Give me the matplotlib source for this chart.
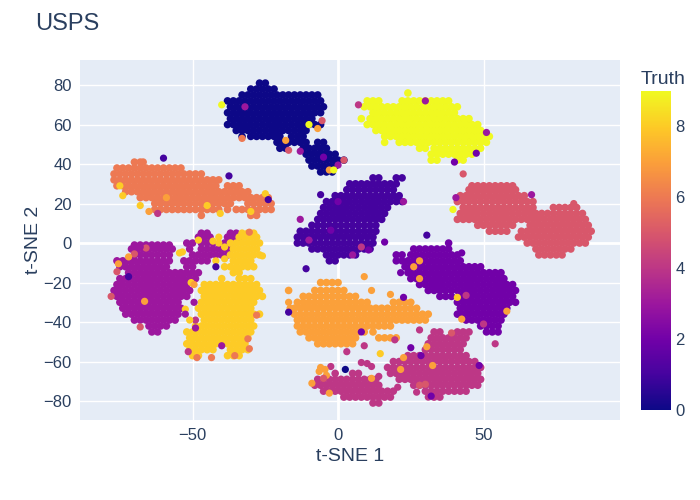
"""t-SNE map of the USPS digits, coloured by true class."""
import matplotlib
matplotlib.use("Agg")
import matplotlib.pyplot as plt  # noqa: E402
from matplotlib.colors import LinearSegmentedColormap  # noqa: E402

plt.rcParams["font.family"] = ["Liberation Sans", "DejaVu Sans"]

INK = "#2a3f5f"
PLASMA = ["#0d0887", "#46039f", "#7201a8", "#9c179e", "#bd3786",
          "#d8576b", "#ed7953", "#fb9f3a", "#fdca26", "#f0f921"]

# each class: t-SNE 2 value -> t-SNE 1 values
TRUTH_0 = {
    81: [-27, -25],
    78: [-30, -28, -26, -24, -22],
    75: [-33, -31, -29, -27, -25, -23, -21, -19, -17, -15, -13, -11, -9, -7],
    72: [-38, -36, -34, -32, -30, -28, -26, -24, -22, -20, -18, -16, -14, -12, -10, -8, -6],
    69: [-37, -35, -33, -31, -29, -27, -25, -23, -21, -19, -17, -15, -13, -11, -9, -7, -5],
    66: [-38, -36, -34, -32, -30, -28, -26, -24, -22, -20, -18, -16, -14, -12, -10, -8, -6],
    63: [-37, -35, -33, -31, -29, -27, -25, -23, -21, -19, -17, -15, -13, -11, -9],
    60: [-38, -36, -34, -32, -30, -28, -26, -24, -22, -20, -18, -16, -14, -12, -10, -8, -6],
    57: [-35, -33, -31, -29, -27, -25, -23, -21, -19, -17, -15, -13, -11],
    54: [-33, -30, -28, -26, -24, -22, -20, -16, -14, -12],
    51: [-21, -19, -17, -15, -13, -11, -7, -5],
    48: [-20, -18, -12, -10, -8, -6, -4],
    45: [-11, -9, -7, -5, -3, -1],
    42: [-10, -8, -6, -4, -2, 0, 2],
    39: [-9, -7, -5, -3, -1],
    36: [-6, -4, -2],
}
TRUTH_1 = {
    33: [12, 14, 20, 22],
    30: [4, 6, 8, 10, 12, 14, 16, 18, 20],
    27: [3, 5, 7, 9, 11, 13, 15, 17, 19],
    24: [-1, 1, 3, 5, 7, 9, 11, 13, 15, 17, 19, 21],
    21: [-4, -2, 0, 2, 4, 6, 8, 10, 12, 14, 16, 18, 20, 22],
    18: [-5, -3, -1, 1, 3, 5, 7, 9, 11, 13, 15, 17],
    15: [-6, -4, -2, 0, 2, 4, 6, 8, 10, 12, 14, 16],
    12: [-7, -5, -3, -1, 1, 3, 5, 7, 9, 11, 13, 15],
    9: [-9, -7, -5, -3, -1, 1, 3, 5, 7, 9, 11, 13],
    6: [-13, -11, -9, -7, -5, -3, -1, 1, 3, 5, 7, 9, 11, 13],
    3: [-14, -12, -10, -8, -6, -4, -2, 0, 2, 4, 6, 8, 10, 12],
    0: [-14, -12, -10, -8, -6, -4, -2, 0, 2, 4, 6, 8, 10, 12],
    -3: [-9, -7, -5, -3, -1, 1, 3, 5, 7, 9, 11],
    -6: [-4, -2, 0, 2, 4, 6],
    -9: [-3, -1],
}
TRUTH_2 = {
    0: [38],
    -3: [26, 28, 30, 32, 34, 36, 38],
    -6: [20, 22, 25, 27, 29, 31, 33, 35, 37, 39, 41],
    -9: [20, 22, 24, 26, 28, 30, 32, 34, 36, 38, 40, 42],
    -12: [23, 25, 27, 29, 31, 33, 35, 37, 39, 41, 43, 45, 47, 49],
    -15: [24, 26, 28, 30, 32, 34, 36, 38, 40, 42, 44, 46, 48, 50, 52, 54, 56],
    -18: [25, 27, 29, 31, 33, 35, 37, 39, 41, 43, 45, 47, 49, 51, 53, 55, 57],
    -21: [28, 30, 32, 34, 36, 38, 40, 42, 44, 46, 48, 50, 52, 54, 56, 58, 60],
    -24: [31, 33, 35, 37, 39, 41, 43, 45, 47, 49, 51, 53, 55, 57, 59, 61],
    -27: [35, 37, 39, 42, 44, 46, 48, 50, 52, 54, 56, 58, 60],
    -30: [41, 43, 45, 47, 49, 51, 53, 55, 57, 59, 61],
    -33: [42, 44, 46, 48, 50, 52, 54, 56, 58],
    -36: [41, 43, 45, 47, 49, 51, 53, 55, 57],
    -39: [44, 46, 48, 50, 52, 54, 56],
    -42: [49, 51, 53, 55],
    -45: [51, 53, 55],
}
TRUTH_3 = {
    5: [-47, -45, -37, -35],
    3: [-48, -46, -44, -38, -36, -34],
    0: [-52, -50, -47, -45, -43, -39, -37],
    -1: [-70, -68, -66, -64, -62, -60, -58],
    -3: [-71, -69, -67, -65, -63, -61, -59, -57, -51, -47, -45, -43, -41, -39, -37],
    -6: [-70, -68, -66, -64, -62, -60, -58, -50, -48, -46, -44, -42, -40, -38],
    -9: [-76, -74, -72, -70, -68, -66, -64, -62, -60, -58, -53, -51, -49, -47, -45],
    -12: [-75, -73, -71, -69, -67, -65, -63, -61, -59, -52, -50],
    -15: [-72, -70, -68, -66, -64, -62, -60, -58, -56, -54, -52, -50, -48],
    -18: [-75, -73, -71, -69, -67, -65, -63, -61, -59, -57, -55, -53, -51, -49],
    -21: [-76, -74, -72, -70, -68, -66, -64, -62, -60, -58, -56, -54, -52],
    -24: [-77, -75, -73, -71, -69, -67, -65, -63, -61, -59, -57, -55, -53, -51],
    -27: [-76, -74, -72, -70, -68, -66, -64, -62, -60, -58, -56, -54, -52],
    -30: [-75, -73, -71, -69, -67, -65, -63, -61, -59, -57, -55],
    -33: [-74, -72, -70, -68, -66, -64, -62, -60, -58, -56, -54],
    -36: [-73, -71, -69, -67, -65, -63, -61, -59, -57, -55],
    -39: [-70, -68, -66, -64, -62, -60, -58, -56],
    -42: [-65, -63, -61, -59],
    -45: [-64, -62],
}
TRUTH_4 = {
    -45: [33, 35, 41, 43, 45],
    -48: [32, 34, 36, 38, 40, 42, 44],
    -51: [31, 33, 35, 37, 39, 41, 43],
    -54: [30, 32, 34, 36, 38, 40, 42],
    -57: [24, 26, 28, 30, 32, 34, 36, 38, 40, 42, 44],
    -60: [19, 21, 23, 25, 27, 29, 31, 33, 35, 37, 39, 41, 43, 45, 47],
    -63: [17, 19, 21, 23, 25, 27, 29, 31, 33, 35, 37, 39, 41, 43, 45, 47, 49],
    -66: [-1, 5, 7, 18, 20, 22, 24, 26, 28, 30, 32, 34, 36, 38, 40, 42, 44, 46, 48],
    -69: [-7, -5, -3, -1, 1, 3, 5, 7, 9, 11, 13, 21, 23, 25, 27, 29, 31, 33, 35, 37, 39, 41, 43,
          45, 47, 49],
    -72: [-8, -6, -4, -2, 0, 2, 4, 6, 8, 10, 12, 14, 26, 28, 30, 32, 34, 36, 38, 40, 42, 44, 46, 48],
    -75: [-5, -3, -1, 1, 3, 5, 7, 9, 11, 13, 15, 17, 19, 30, 32, 34, 36, 38, 40, 42, 44],
    -78: [2, 4, 6, 8, 10, 12, 14, 16, 18, 33, 35],
    -81: [12, 14],
}
TRUTH_5 = {
    29: [46, 48, 50, 52, 54, 56, 58, 60],
    27: [45, 47, 49, 51, 53, 55, 57, 59, 61],
    24: [42, 44, 46, 48, 50, 52, 54, 56, 58, 60, 62, 64],
    21: [41, 43, 45, 47, 49, 51, 53, 55, 57, 59, 61, 63, 65, 67],
    18: [43, 45, 47, 49, 51, 53, 55, 57, 59, 61, 63, 65, 67, 74, 76, 78, 80, 82],
    15: [42, 44, 46, 48, 50, 52, 54, 56, 58, 60, 62, 64, 66, 68, 70, 72, 74, 76, 78, 80, 82, 84],
    12: [41, 43, 45, 47, 49, 51, 53, 55, 57, 59, 61, 63, 65, 67, 69, 71, 73, 75, 77, 79, 81, 83, 85],
    9: [48, 50, 52, 54, 56, 58, 60, 66, 68, 70, 72, 74, 76, 78, 80, 82, 84, 86],
    6: [52, 54, 56, 58, 63, 65, 67, 69, 71, 73, 75, 77, 79, 81, 83, 85, 87],
    3: [62, 64, 66, 68, 70, 72, 74, 76, 78, 80, 82, 84, 86],
    0: [65, 67, 69, 71, 73, 75, 77, 79, 81, 83, 85],
    -3: [68, 70, 72, 74, 76, 78, 80],
    -6: [69, 71, 73, 75, 77],
}
TRUTH_6 = {
    41: [-70, -68, -67],
    38: [-76, -74, -72, -70, -68, -66, -64, -62, -60, -58, -56, -54],
    35: [-77, -75, -73, -71, -69, -67, -65, -63, -61, -59, -57, -55, -53, -51, -49, -47],
    32: [-77, -75, -73, -71, -69, -67, -65, -63, -61, -59, -57, -55, -53, -51, -49, -47, -45, -43, -41],
    29: [-76, -74, -72, -70, -68, -66, -64, -62, -60, -58, -56, -54, -52, -50, -48, -46, -44, -42,
         -38, -36, -34],
    26: [-73, -71, -69, -67, -65, -63, -61, -59, -57, -55, -53, -51, -49, -47, -45, -43, -41, -39,
         -37, -35, -33, -31],
    23: [-68, -66, -64, -62, -60, -58, -56, -54, -52, -50, -48, -46, -44, -42, -40, -38, -36, -34,
         -32, -30, -28, -26, -24],
    20: [-63, -61, -59, -57, -55, -53, -51, -49, -47, -45, -43, -41, -39, -37, -31, -29, -27, -25,
         -23],
    17: [-63, -61, -59, -57, -55, -53, -51, -49, -47, -45, -43, -41, -38, -35, -33, -31, -29, -27,
         -25, -23],
    14: [-47, -30, -28],
}
TRUTH_7 = {
    -20: [-6, -4, -2, 0],
    -24: [-17, -8, -6, -4, -2, 0, 2],
    -27: [-12, -10, -8, -6, -4, -2, 0, 2, 4, 6],
    -30: [-14, -12, -10, -8, -6, -4, -2, 0, 2, 4, 6, 8, 10, 19, 21, 23, 25],
    -33: [-15, -13, -11, -9, -7, -5, -3, -1, 1, 3, 5, 7, 9, 11, 13, 15, 17, 19, 21, 23, 25, 27],
    -36: [-15, -13, -11, -9, -7, -5, -3, -1, 1, 3, 5, 7, 9, 11, 13, 15, 17, 19, 21, 23, 25, 27, 29, 31],
    -39: [-14, -12, -10, -8, -6, -4, -2, 0, 2, 4, 6, 8, 10, 12, 14, 16, 18, 20, 22, 24, 26, 28, 30],
    -42: [-14, -12, -10, -8, -6, -4, -2, 0, 2, 4, 6, 8, 10, 12, 14, 16, 18],
    -45: [-13, -11, -9, -7, -5, -3, -1, 1, 3, 5, 7, 9, 12],
    -48: [-10, -8, -6, -4, -2, 0, 2, 4, 6, 14, 16, 18, 20],
    -51: [-7, -5, -3, -1, 1, 3, 5],
}
TRUTH_8 = {
    5: [-33, -31, -29],
    3: [-34, -32, -30, -28],
    0: [-37, -35, -33, -31, -29, -27],
    -3: [-36, -34, -32, -30, -28],
    -6: [-37, -35, -33, -31, -29, -27],
    -9: [-36, -34, -32, -30],
    -12: [-39, -37, -35, -33, -31, -29],
    -15: [-36, -34],
    -18: [-40, -34, -32, -30],
    -21: [-46, -44, -42, -40, -38, -36, -34, -32, -30, -28],
    -24: [-47, -45, -43, -41, -39, -37, -35, -33, -31, -29, -27],
    -27: [-46, -44, -42, -40, -38, -36, -34, -32, -30, -28, -26],
    -30: [-47, -45, -43, -41, -39, -37, -35, -33, -31, -29],
    -33: [-48, -46, -44, -42, -40, -38, -36, -34, -32, -30],
    -36: [-47, -45, -43, -41, -39, -37, -35, -33, -31, -29, -27],
    -39: [-46, -44, -42, -40, -38, -36, -34, -32, -30],
    -42: [-49, -47, -45, -43, -41, -39, -37, -35, -33, -31, -29],
    -45: [-52, -50, -48, -46, -44, -42, -40, -38, -36, -34, -32, -30],
    -48: [-51, -49, -47, -45, -43, -41, -39, -37, -35, -33, -31],
    -51: [-52, -50, -48, -46, -44, -42, -40, -38, -36, -34, -32],
    -54: [-51, -49, -47, -45, -43, -37, -35, -33, -31],
    -57: [-50, -48, -38, -36, -34],
}
TRUTH_9 = {
    76: [24],
    72: [10, 12, 14, 22, 24, 26, 28, 30, 32, 34, 36, 38],
    69: [9, 11, 13, 15, 17, 19, 21, 23, 25, 27, 29, 31, 33, 35, 37, 39, 41],
    66: [12, 14, 16, 18, 20, 22, 24, 26, 28, 30, 32, 34, 36, 38, 40],
    63: [8, 11, 13, 15, 17, 19, 21, 23, 25, 27, 29, 31, 33, 35, 37, 39, 41, 43, 45],
    60: [10, 12, 14, 16, 18, 20, 22, 24, 26, 28, 30, 32, 34, 36, 38, 40, 42, 44, 46, 48],
    57: [13, 15, 17, 19, 21, 23, 25, 27, 29, 31, 33, 35, 37, 39, 41, 43, 45, 47, 49],
    54: [16, 18, 20, 22, 24, 26, 28, 30, 32, 34, 36, 38, 40, 42, 44, 46, 48, 50, 52],
    51: [16, 21, 23, 25, 27, 29, 31, 33, 35, 37, 39, 41, 43, 45, 47, 49, 51],
    48: [28, 30, 33, 35, 37, 39, 41, 43, 45, 47, 49],
    45: [32, 34, 36, 38, 40, 42, 44, 46],
    42: [32, 34, 41, 43],
}
CLASSES = [TRUTH_0, TRUTH_1, TRUTH_2, TRUTH_3, TRUTH_4,
           TRUTH_5, TRUTH_6, TRUTH_7, TRUTH_8, TRUTH_9]

# stray points sitting away from their own class, drawn on top
STRAY_X = [-40, -32, -10, -5.5, -7, -33, -18, -17, -13, -5, 2, 0, -3, -1.5,
           -60, -37.5, -75, -74, -59, -68, -65, -62, -45, -40.5, -30, -25, -24, -6, -13, 0, -2.5,
           7, 30, 51, 47.5, 40, 43, 66.5, 40.5, 39.5, 81, 30.5, 22.5,
           -66, -68, -70, -72, -75.5, -76, -72, -78, -66.5, -68, -54.5, -53.5, -48, -43, -41, -41,
           -39, -42, -42, -39, -26, -30.5, -50.5, -49.5, -52.5, -49.5, -52.5, -49, -49, -51, -40,
           -31, -30.5, -28, -35.5, -43.5, -48.5, -51.5,
           -10, 8, 5, 10.5, 16, -11, 9, 11.5, 18, 22.5, -17, -16.5, -17, 28, 26, 21.5, 28, 41, 44,
           58, 42.5, 50, 42.5, 54, 39, 28, 8, 19.5, 9, 3, 14.5, 25, 30.5, 22.5, 28.5, 21.5, 32.5,
           48.5, 8, 10, 11.5, -2.5, 2.5, -6, -6.5, -4.5, -4, -5, -9, -3, 11.5, 14, 20.5, 28, 30,
           31, 32, 27]
STRAY_Y = [70, 69, 60, 62, 58, 53, 52, 47, 46.5, 43.5, 42, 39.5, 37, 37,
           43, 34, 29, 24, 23, 19, 16, 15, 19, 15, 16, 25, 22, 24.5, 12, 21, 6.5,
           70, 72, 56, 45.5, 41, 35, 24.5, 23, 17, 20, 4, 21,
           -2.5, -2, -5.5, -7, -10.5, -14.5, -17, -27, -29.5, -42.5, -5, -4.5, 1.5, 1, 3, 0,
           -2, -9, -12, -8, -6.5, 5.5, -20, -21, -33.5, -30, -36, -39, -43, -39, -52,
           -48.5, -53.5, -36.5, -57, -58, -58, -55,
           1.5, -2, -6, -3.5, 0.5, -13, -17, -24, -26, -27.5, -30, -33, -35, -9, -12, -15, -18,
           -27.5, -26.5, -34.5, -38.5, -41, -5, -51, -45.5, -44, -45, -49, -52, -55, -56, -53,
           -52.5, -58, -57, -64, -62, -62, -60.5, -61, -62.5, -62.5, -64, -63, -65, -64, -67,
           -68.5, -71, -76, -68.5, -67.5, -73, -72, -71.5, -78, -77.5, -75.5]
STRAY_TRUTH = [9, 3, 9, 5, 7, 6, 7, 5, 3, 2, 5, 3, 7, 9,
               1, 1, 8, 8, 7, 8, 7, 4, 8, 8, 8, 8, 1, 1, 3, 2, 2,
               4, 3, 3, 2, 2, 5, 3, 3, 9, 5, 1, 3,
               5, 3, 5, 7, 7, 5, 1, 5, 7, 5, 8, 8, 8, 8, 8, 8,
               8, 8, 1, 8, 8, 6, 8, 7, 8, 3, 3, 4, 3, 8, 3,
               6, 6, 6, 6, 6, 6, 4,
               3, 4, 3, 2, 2, 1, 7, 7, 7, 2, 7, 7, 1, 7, 7, 2, 7, 8, 4,
               7, 7, 4, 2, 4, 5, 4, 2, 4, 4, 4, 8, 2, 7, 7, 2, 7, 7,
               2, 4, 4, 4, 4, 0, 7, 7, 7, 7, 5, 7, 7, 7, 4, 4, 5, 5,
               4, 2, 4]

X_TICKS = [-50, 0, 50]
Y_TICKS = [-80, -60, -40, -20, 0, 20, 40, 60, 80]
BAR_TICKS = [0, 2, 4, 6, 8]


def main():
    cmap = LinearSegmentedColormap.from_list("plotly_plasma", PLASMA)
    fig = plt.figure(figsize=(7, 5), dpi=100)
    ax = fig.add_axes([80 / 700, 80 / 500, 540 / 700, 360 / 500], facecolor="#E5ECF6")

    for truth, rows in enumerate(CLASSES):
        xs = [x for vals in rows.values() for x in vals]
        ys = [y for y, vals in rows.items() for _ in vals]
        pts = ax.scatter(xs, ys, c=[truth] * len(xs), s=30, cmap=cmap, vmin=0, vmax=9,
                         linewidths=0, zorder=3)
    ax.scatter(STRAY_X, STRAY_Y, c=STRAY_TRUTH, s=27, cmap=cmap, vmin=0, vmax=9,
               linewidths=0, zorder=4)

    ax.set_xlim(-88.7, 96.9)
    ax.set_ylim(-89.6, 92.7)
    ax.set_xticks(X_TICKS)
    ax.set_yticks(Y_TICKS)
    ax.grid(color="white", lw=1, zorder=1)
    ax.set_axisbelow(True)
    ax.axhline(0, color="white", lw=2, zorder=2)
    ax.axvline(0, color="white", lw=2, zorder=2)
    ax.tick_params(length=0, labelsize=12, labelcolor=INK, pad=6)
    for side in ax.spines.values():
        side.set_visible(False)

    fig.text(35 / 700, 1 - 30 / 500, "USPS", fontsize=17, color=INK, ha="left", va="baseline")
    fig.text(350 / 700, 1 - 461 / 500, "t-SNE 1", fontsize=14, color=INK, ha="center", va="baseline")
    fig.text(34 / 700, 1 - 240 / 500, "t-SNE 2", fontsize=14, color=INK, ha="center", va="center",
             rotation=90)

    cax = fig.add_axes([641 / 700, 90 / 500, 30 / 700, 319 / 500])
    bar = fig.colorbar(pts, cax=cax, ticks=BAR_TICKS)
    bar.outline.set_visible(False)
    bar.ax.tick_params(length=0, labelsize=12, labelcolor=INK, pad=3)
    fig.text(641 / 700, 1 - 84 / 500, "Truth", fontsize=14, color=INK, ha="left", va="baseline")

    fig.savefig("out.png", dpi=100)


if __name__ == "__main__":
    main()
